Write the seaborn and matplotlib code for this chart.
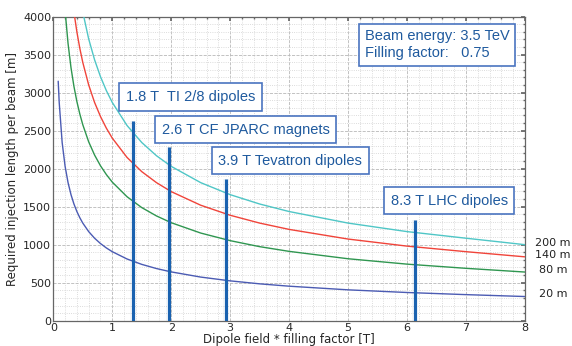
import numpy as np
import pandas as pd
import seaborn as sns
import matplotlib.pyplot as plt
from matplotlib.ticker import MultipleLocator
from matplotlib.transforms import blended_transform_factory

# values
field = [0.083, 0.1, 0.15, 0.2, 0.25, 0.3, 0.35, 0.4, 0.45, 0.5, 0.6, 0.7, 0.8, 0.9,
         1.0, 1.25, 1.5, 1.75, 2.0, 2.5, 3.0, 3.5, 4.0, 5.0, 6.0, 7.0, 8.0]
length_20m = [3150, 2871, 2344, 2030, 1816, 1658, 1535, 1436, 1354, 1284, 1172, 1085,
              1015, 957, 908, 812, 741, 686, 642, 574, 524, 485, 454, 406, 371, 343, 318]
length_80m = [6330, 5765, 4707, 4076, 3646, 3328, 3081, 2882, 2718, 2578, 2353, 2179,
              2038, 1922, 1823, 1631, 1488, 1378, 1289, 1153, 1053, 974, 912, 815, 744,
              689, 640]
length_140m = [8340, 7596, 6202, 5371, 4804, 4385, 4060, 3798, 3581, 3397, 3101, 2871,
               2686, 2532, 2402, 2148, 1961, 1816, 1698, 1519, 1387, 1284, 1201, 1074,
               981, 908, 840]
length_200m = [9966, 9079, 7413, 6420, 5742, 5242, 4853, 4539, 4280, 4060, 3706, 3432,
               3210, 3026, 2871, 2568, 2344, 2170, 2030, 1816, 1658, 1535, 1436, 1284,
               1172, 1085, 1000]
series_names = ['20 m', '80 m', '140 m', '200 m']
series_colors = ['#4b5bb3', '#2f9650', '#f0443a', '#4fc6c6']
label_y = [351, 667, 864, 1022]

magnet_x = [1.35, 1.96, 2.93, 6.13]
magnet_top = [2630, 2290, 1860, 1325]
magnet_labels = ['1.8 T  TI 2/8 dipoles', '2.6 T CF JPARC magnets',
                 '3.9 T Tevatron dipoles', '8.3 T LHC dipoles']
magnet_label_pos = [(1.232, 2942), (1.837, 2514), (2.797, 2107), (5.724, 1581)]

df = pd.DataFrame({
    'field': field * 4,
    'length': length_20m + length_80m + length_140m + length_200m,
    'aperture': [n for n in series_names for _ in field],
})

sns.set_theme(style='white')
plt.rcParams['font.family'] = ['DejaVu Sans']

fig = plt.figure(figsize=(5.72, 3.46), dpi=100)
ax = fig.add_axes([0.0932, 0.0731, 0.8246, 0.8789])

sns.lineplot(data=df, x='field', y='length', hue='aperture', palette=series_colors,
             hue_order=series_names, linewidth=1.0, ax=ax, legend=False, zorder=3)

ax.set_xlim(0, 8)
ax.set_ylim(0, 4000)
ax.xaxis.set_major_locator(MultipleLocator(1))
ax.xaxis.set_minor_locator(MultipleLocator(0.2))
ax.yaxis.set_major_locator(MultipleLocator(500))
ax.yaxis.set_minor_locator(MultipleLocator(100))
ax.grid(which='major', color='#b8b8b8', linestyle='--', linewidth=0.6)
ax.grid(which='minor', color='#d0d0d0', linestyle=':', linewidth=0.6)
ax.tick_params(which='both', direction='in', top=True, right=True, color='#666666',
               labelsize=8, pad=1.5)
ax.tick_params(which='major', length=3)
ax.tick_params(which='minor', length=1.5)
for s in ax.spines.values():
    s.set_color('#666666')
    s.set_linewidth(0.9)

ax.set_xlabel('Dipole field * filling factor [T]', fontsize=8.5, labelpad=0)
ax.set_ylabel('Required injection length per beam [m]', fontsize=8.5, labelpad=3)

# magnet markers
ax.vlines(magnet_x, 0, magnet_top, color='#1a62b0', linewidth=4, alpha=0.07, zorder=4)
ax.vlines(magnet_x, 0, magnet_top, color='#1a62b0', linewidth=2.2, zorder=5)

box = dict(boxstyle='square,pad=0.45', facecolor='white', edgecolor='#4a74c0', linewidth=1.2)
for (tx, ty), txt in zip(magnet_label_pos, magnet_labels):
    ax.text(tx, ty, txt, ha='left', va='center', fontsize=10.5, color='#1f5a9e',
            family='Liberation Sans', bbox=box, zorder=6)

ax.text(5.28, 3630, 'Beam energy: 3.5 TeV\nFilling factor:   0.75', ha='left', va='center',
        fontsize=10.5, color='#1f5a9e', family='Liberation Sans', linespacing=1.25,
        bbox=dict(boxstyle='square,pad=0.4', facecolor='white', edgecolor='#4a74c0',
                  linewidth=1.2), zorder=6)

trans = blended_transform_factory(ax.transAxes, ax.transData)
for name, y in zip(series_names, label_y):
    ax.text(1.059, y, name, transform=trans, ha='center', va='center', fontsize=8,
            color='#222222', clip_on=False)

fig.savefig('out.png', dpi=100)
